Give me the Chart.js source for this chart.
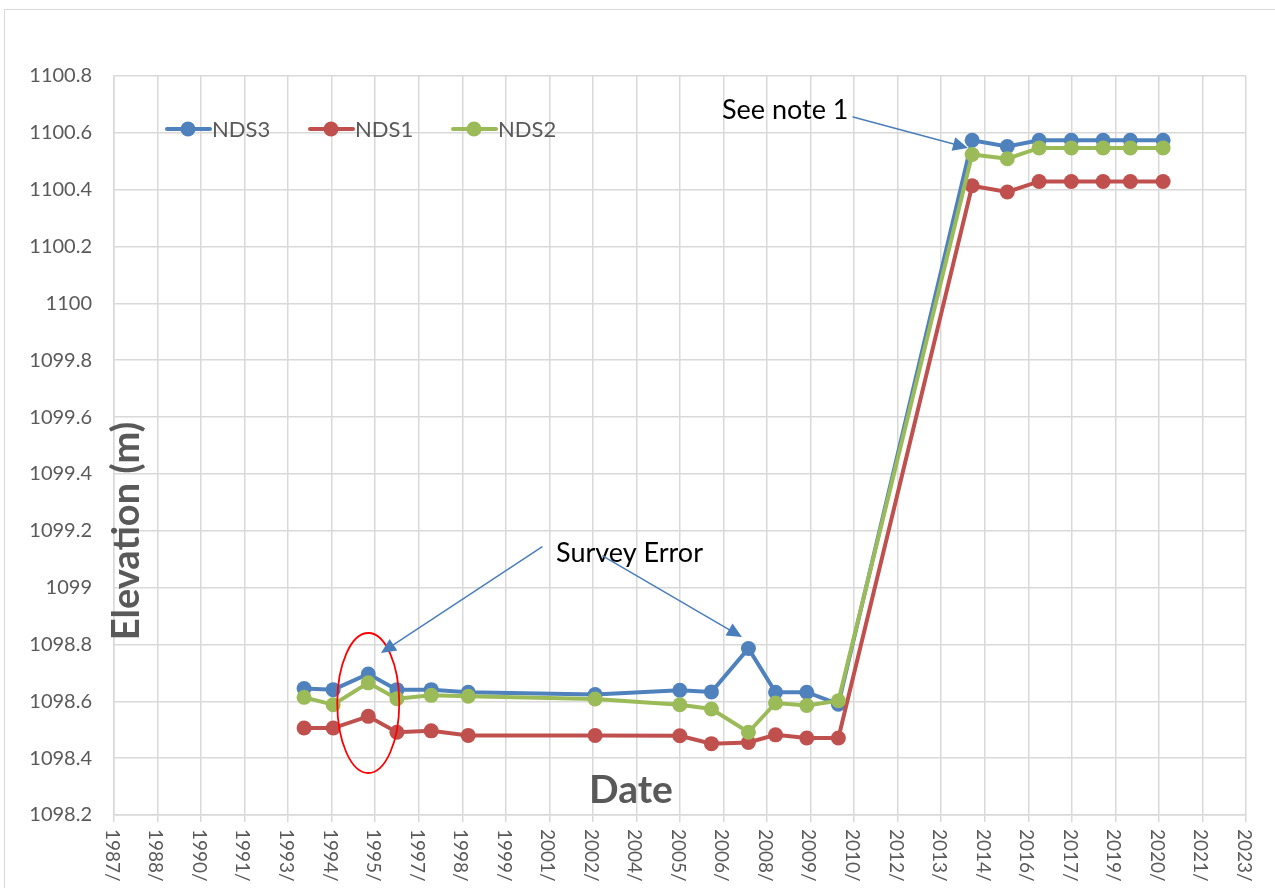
<!DOCTYPE html>
<html>
<head>
<meta charset="utf-8">
<script src="https://cdn.jsdelivr.net/npm/chart.js@4.4.1/dist/chart.umd.min.js"></script>
<style>
html,body{margin:0;padding:0;background:#fff}
#wrap{position:relative;width:1275px;height:888px}
</style>
</head>
<body>
<div id="wrap"><canvas id="c"></canvas></div>
<script>
// survey dates
const surveyDates=["1993-08-02","1994-07-02","1995-08-09","1996-07-03","1997-08-01","1998-09-30",
"2002-09-26","2005-05-26","2006-05-24","2007-07-23","2008-05-29","2009-05-23","2010-05-21",
"2014-08-04","2015-09-12","2016-09-11","2017-09-16","2018-09-16","2019-07-26","2020-08-05"]

const nds3=[1098.645,1098.641,1098.696,1098.641,1098.641,1098.632,1098.624,1098.639,1098.633,1098.786,1098.632,1098.632,1098.590,
1100.574,1100.552,1100.574,1100.574,1100.574,1100.574,1100.574]
const nds1=[1098.506,1098.506,1098.547,1098.491,1098.496,1098.480,1098.480,1098.479,1098.451,1098.455,1098.482,1098.471,1098.471,
1100.414,1100.392,1100.429,1100.429,1100.429,1100.429,1100.429]
const nds2=[1098.614,1098.588,1098.665,1098.609,1098.621,1098.618,1098.608,1098.588,1098.573,1098.491,1098.594,1098.585,1098.602,
1100.524,1100.509,1100.547,1100.547,1100.547,1100.547,1100.547]

const seriesNames=["NDS3","NDS1","NDS2"]
const seriesColors=["#4f81bd","#c0504d","#9bbb59"]

// axis range (excel serial days) and elevation range
const xMin=32000, xMax=45000, xStep=500
const yMin=1098.2, yMax=1100.8, yStep=0.2

// excel serial date helpers
function toSerial(d){return Date.parse(d+"T00:00:00Z")/86400000+25569}
function serialYear(s){return new Date((s-25569)*86400000).getUTCFullYear()}

function pts(vals){return vals.map((v,i)=>({x:toSerial(surveyDates[i]),y:v}))}

const GRID="#d9d9d9"
const TXT="#595959"
const ARROW="#4a7ebb"

function arrow(ctx,x1,y1,x2,y2){
ctx.strokeStyle=ARROW
ctx.fillStyle=ARROW
ctx.lineWidth=1.5
const a=Math.atan2(y2-y1,x2-x1)
const len=15, w=7
ctx.beginPath()
ctx.moveTo(x1,y1)
ctx.lineTo(x2-Math.cos(a)*len*0.8,y2-Math.sin(a)*len*0.8)
ctx.stroke()
ctx.beginPath()
ctx.moveTo(x2,y2)
ctx.lineTo(x2-Math.cos(a)*len-Math.sin(a)*w,y2-Math.sin(a)*len+Math.cos(a)*w)
ctx.lineTo(x2-Math.cos(a)*len+Math.sin(a)*w,y2-Math.sin(a)*len-Math.cos(a)*w)
ctx.closePath()
ctx.fill()
}

const extras={
id:"extras",
beforeDraw(chart){
const ctx=chart.ctx
ctx.save()
ctx.strokeStyle=GRID
ctx.lineWidth=1
ctx.strokeRect(4.5,9.5,1400,1000)
ctx.restore()
},
afterDraw(chart){
const ctx=chart.ctx
const xs=chart.scales.x, ys=chart.scales.y
const ca=chart.chartArea
const X=v=>xs.getPixelForValue(v), Y=v=>ys.getPixelForValue(v)
ctx.save()

// x tick labels, rotated clockwise
ctx.fillStyle=TXT
ctx.font="19px Lato"
ctx.textAlign="left"
ctx.textBaseline="middle"
xs.ticks.forEach(t=>{
ctx.save()
ctx.translate(X(t.value)-2,ca.bottom+14)
ctx.rotate(Math.PI/2)
ctx.fillText(serialYear(t.value)+"/",0,0)
ctx.restore()
})

// axis titles inside plot
ctx.fillStyle=TXT
ctx.font="bold 38px Lato"
ctx.textAlign="center"
ctx.textBaseline="middle"
ctx.save()
ctx.translate(ca.left+13,531)
ctx.rotate(-Math.PI/2)
ctx.fillText("Elevation (m)",0,0)
ctx.restore()
ctx.font="bold 39px Lato"
ctx.fillText("Date",631,790)

// legend
ctx.font="22px Lato"
ctx.textAlign="left"
const lx=[167,310,453]
seriesNames.forEach((n,i)=>{
ctx.strokeStyle=seriesColors[i]
ctx.fillStyle=seriesColors[i]
ctx.lineWidth=4
ctx.lineCap="round"
ctx.beginPath()
ctx.moveTo(lx[i],129)
ctx.lineTo(lx[i]+43,129)
ctx.stroke()
ctx.beginPath()
ctx.arc(lx[i]+21,129,7.5,0,Math.PI*2)
ctx.fill()
ctx.fillStyle=TXT
ctx.fillText(n,lx[i]+45,130)
})

// red ellipse around the 1995 survey
ctx.strokeStyle="#ff0000"
ctx.lineWidth=1.8
ctx.beginPath()
ctx.ellipse(X(toSerial("1995-08-09")),Y(1098.594),31,70,0,0,Math.PI*2)
ctx.stroke()

// survey error notes
ctx.fillStyle="#000"
ctx.font="27px Lato"
ctx.textBaseline="middle"
ctx.fillText("Survey Error",X(37076),Y(1099.122))
ctx.fillText("See note 1",X(38982),Y(1100.680))
arrow(ctx,X(36915),Y(1099.143),X(35066),Y(1098.770))
arrow(ctx,X(37616),Y(1099.111),X(39212),Y(1098.826))
arrow(ctx,X(40487),Y(1100.656),X(41807),Y(1100.547))

ctx.restore()
}
}

const datasets=[nds3,nds1,nds2].map((vals,i)=>({
label:seriesNames[i],
data:pts(vals),
borderColor:seriesColors[i],
backgroundColor:seriesColors[i],
borderWidth:4,
pointRadius:7.5,
pointBorderWidth:0,
pointHoverRadius:7.5,
tension:0,
order:[2,1,0][i]
}))

new Chart(document.getElementById("c"),{
type:"line",
data:{datasets:datasets},
options:{
responsive:true,
maintainAspectRatio:false,
animation:false,
layout:{padding:{top:76,right:29,left:0,bottom:0}},
plugins:{legend:{display:false},tooltip:{enabled:false}},
scales:{
x:{
type:"linear",
min:xMin,max:xMax,
afterFit(s){s.height=73},
ticks:{stepSize:xStep,display:false},
grid:{color:GRID,lineWidth:1.5,drawTicks:true,tickLength:7},
border:{color:GRID,width:1.5}
},
y:{
min:yMin,max:yMax,
afterFit(s){s.width=114},
ticks:{
stepSize:yStep,
padding:22,
color:TXT,
font:{family:"Lato",size:20},
callback:v=>String(+v.toFixed(1))
},
grid:{color:GRID,lineWidth:1.5,drawTicks:false},
border:{color:GRID,width:1.5}
}
}
},
plugins:[extras]
})
</script>
</body>
</html>
